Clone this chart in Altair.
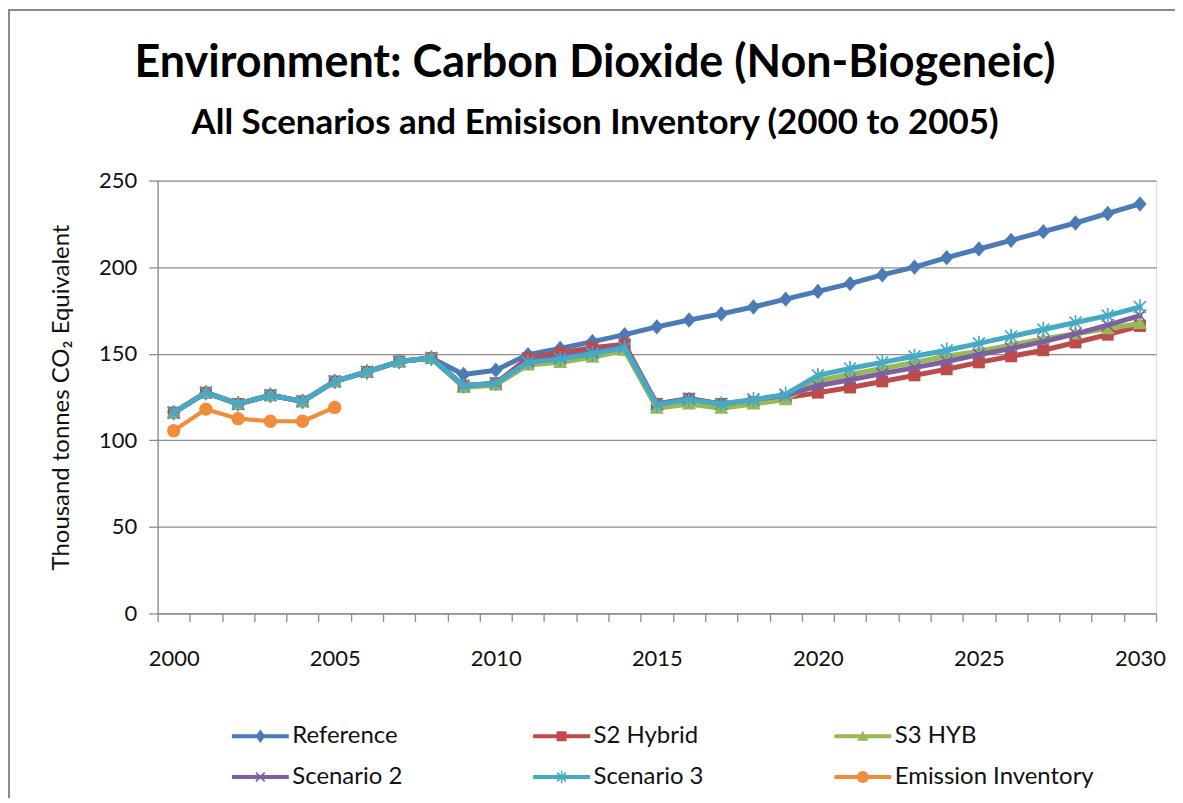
import altair as alt
import pandas as pd

# ---------------- data ----------------
years = list(range(2000, 2031))

reference = [116, 127.5, 121, 126, 122.5, 134, 139.5, 145.5, 147.5,
             138, 140.5, 149.5, 153, 157, 161,
             165.5, 169.5, 173, 177, 181.5,
             186, 190.5, 195.5, 200, 205.5, 210.5, 215.5, 220.5, 225.5, 231, 236.5]
s2_hybrid = [116, 127.5, 121, 126, 122.5, 134, 139.5, 145.5, 147.5,
             131.5, 133, 147.5, 150.5, 153.5, 155.5,
             121, 124, 121, 122, 124.5,
             127.5, 130.5, 134, 137.5, 141, 145, 148.5, 152, 156.5, 161, 166]
s3_hyb = [116, 127.5, 121, 126, 122.5, 134, 139.5, 145.5, 147.5,
          130.5, 132, 143.5, 145, 148, 152,
          118.5, 121, 118.5, 121, 123.5,
          134.5, 138, 141.5, 145, 148.5, 151.5, 155, 158.5, 161.5, 164.5, 167.5]
scenario_2 = [116, 127.5, 121, 126, 122.5, 134, 139.5, 145.5, 147.5,
              131.5, 133, 146, 148, 151, 154.5,
              121, 124, 121, 123.5, 126,
              131.5, 135, 138.5, 142, 145.5, 149.5, 153, 157, 161.5, 166.5, 172]
scenario_3 = [116, 127.5, 121, 126, 122.5, 134, 139.5, 145.5, 147.5,
              131.5, 133, 145, 147, 150, 153.5,
              120.5, 123.5, 121, 123.5, 126.5,
              137.5, 141.5, 145, 148.5, 152, 156, 160, 164, 168, 172, 177]
inventory_years = [2000, 2001, 2002, 2003, 2004, 2005]
inventory = [105.5, 118, 112.5, 111, 111, 119]

series_names = ["Reference", "S2 Hybrid", "S3 HYB", "Scenario 2", "Scenario 3", "Emission Inventory"]
series_colors = ["#4A7BB7", "#BE4B48", "#98B954", "#7D60A0", "#46AAC5", "#F08C3C"]

y_ticks = [0, 50, 100, 150, 200, 250]

rows = []
for name, vals in zip(series_names[:5], [reference, s2_hybrid, s3_hyb, scenario_2, scenario_3]):
    for yr, v in zip(years, vals):
        rows.append({"series": name, "year": yr, "value": v})
for yr, v in zip(inventory_years, inventory):
    rows.append({"series": "Emission Inventory", "year": yr, "value": v})
df = pd.DataFrame(rows)

# ---------------- styling ----------------
FONT = "Lato"
PLOT_W, PLOT_H = 1001, 434
PAD_L, PAD_T = 150, 172
TOTAL_W, TOTAL_H = 1170, 790
band = PLOT_W / len(years)
AXIS_GREY = "#8c8c8c"

# chart marker paths (unit = sqrt(size)/2 px)
marker_paths = {
    "Reference": "M0,-1.1L0.95,0L0,1.1L-0.95,0Z",
    "S2 Hybrid": "M-0.85,-0.85H0.85V0.85H-0.85Z",
    "S3 HYB": "M0,-1L1,0.8H-1Z",
    "Scenario 2": "M-0.85,-0.85L0.85,0.85M-0.85,0.85L0.85,-0.85",
    "Scenario 3": "M-0.85,-0.85L0.85,0.85M-0.85,0.85L0.85,-0.85M0,-1.1V1.1",
    "Emission Inventory": "circle",
}
stroked_markers = {"Scenario 2", "Scenario 3"}

# legend symbols: line segment + marker, all as filled outlines
LINE = "M-5.7,-0.4H5.7V0.4H-5.7Z"
XBARS = "M-1,-0.75L-0.75,-1L1,0.75L0.75,1ZM-0.75,1L-1,0.75L0.75,-1L1,-0.75Z"
legend_paths = [
    LINE + "M0,-1.35L1.0,0L0,1.35L-1.0,0Z",
    LINE + "M-1,-1H1V1H-1Z",
    LINE + "M0,-1.1L1.15,0.9H-1.15Z",
    LINE + XBARS,
    LINE + XBARS + "M-0.15,-1.25H0.15V1.25H-0.15Z",
    LINE + "M-1.2,0A1.2,1.2 0 1,1 1.2,0A1.2,1.2 0 1,1 -1.2,0Z",
]

x_enc = alt.X(
    "year:Q",
    scale=alt.Scale(domain=[1999.5, 2030.5], nice=False, zero=False),
    axis=alt.Axis(
        values=[1999.5 + i for i in range(len(years) + 1)],
        labelExpr="((datum.value + 0.5) % 5 == 0 && datum.value < 2030) ? format(datum.value + 0.5, 'd') : ''",
        labelOffset=band / 2,
        labelFlush=False,
        labelOverlap=False,
        labelBound=False,
        tickSize=8,
        tickColor=AXIS_GREY,
        tickWidth=1.3,
        domainColor=AXIS_GREY,
        domainWidth=1.3,
        grid=False,
        labelFont=FONT,
        labelFontSize=22,
        labelColor="#111",
        labelPadding=27,
        title=None,
    ),
)
y_enc = alt.Y(
    "value:Q",
    scale=alt.Scale(domain=[0, 250], nice=False),
    axis=alt.Axis(
        values=y_ticks,
        grid=True,
        gridColor=AXIS_GREY,
        gridWidth=1.3,
        tickSize=9,
        tickColor=AXIS_GREY,
        tickWidth=1.3,
        domainColor=AXIS_GREY,
        domainWidth=1.3,
        labelFont=FONT,
        labelFontSize=22,
        labelColor="#111",
        labelPadding=12,
        title="Thousand tonnes CO\u2082 Equivalent",
        titleFont=FONT,
        titleFontSize=24,
        titleFontWeight="normal",
        titleColor="#111",
        titlePadding=25,
    ),
)

base = alt.Chart(df)
layers = []

# border of the chart area (decoration)
border = alt.Chart(alt.Data(values=[{"b": 1}])).mark_rect(
    filled=False, stroke="#8a8a8a", strokeWidth=2
).encode(
    x=alt.value(-PAD_L + 1), x2=alt.value(PLOT_W + 200),
    y=alt.value(-PAD_T + 1), y2=alt.value(PLOT_H + 400),
)
layers.append(border)

for name, col in zip(series_names, series_colors):
    sub = base.transform_filter(alt.datum.series == name)
    lw = 4.2 if name == "Emission Inventory" else 5
    layers.append(sub.mark_line(color=col, strokeWidth=lw, strokeJoin="round", strokeCap="round").encode(x=x_enc, y=y_enc))
    if name in stroked_markers:
        pt = sub.mark_point(shape=marker_paths[name], filled=False, color=col, size=196, strokeWidth=1.7, opacity=1)
    elif name == "Emission Inventory":
        pt = sub.mark_point(shape="circle", filled=True, color=col, size=180, opacity=1, strokeWidth=0)
    else:
        pt = sub.mark_point(shape=marker_paths[name], filled=True, color=col, size=196, opacity=1, strokeWidth=0)
    layers.append(pt.encode(x=x_enc, y=y_enc))

legend_props = dict(
    title=None,
    orient="none",
    direction="horizontal",
    legendX=91,
    legendY=545,
    columns=3,
    gridAlign="all",
    columnPadding=41,
    rowPadding=17,
    symbolSize=100,
    symbolStrokeWidth=0,
    symbolOpacity=1,
    labelOffset=20,
    labelFont=FONT,
    labelFontSize=24,
    labelColor="#111",
    labelLimit=400,
    padding=0,
)
legend_layer = base.mark_point(filled=True, size=100).encode(
    x=x_enc, y=y_enc,
    color=alt.Color("series:N", scale=alt.Scale(domain=series_names, range=series_colors),
                    legend=alt.Legend(**legend_props)),
    shape=alt.Shape("series:N", scale=alt.Scale(domain=series_names, range=legend_paths),
                    legend=alt.Legend(**legend_props)),
    opacity=alt.value(0),
)
layers.append(legend_layer)

chart = alt.layer(*layers).properties(
    width=PLOT_W,
    height=PLOT_H,
    padding={"left": PAD_L, "top": PAD_T, "right": TOTAL_W - PAD_L - PLOT_W, "bottom": TOTAL_H - PAD_T - PLOT_H},
    autosize=alt.AutoSizeParams(type="none"),
    title=alt.Title(
        text="Environment: Carbon Dioxide (Non-Biogeneic)",
        subtitle="All Scenarios and Emisison Inventory (2000 to 2005)",
        font=FONT, fontSize=45, fontWeight="bold", color="black",
        subtitleFont=FONT, subtitleFontSize=35, subtitleFontWeight="bold", subtitleColor="black",
        subtitlePadding=20,
        anchor="middle", dx=-62, dy=170, offset=38,
    ),
).configure_view(stroke=None).configure(background="white")

chart.save("out.html", embed_options={"renderer": "svg", "actions": False})
